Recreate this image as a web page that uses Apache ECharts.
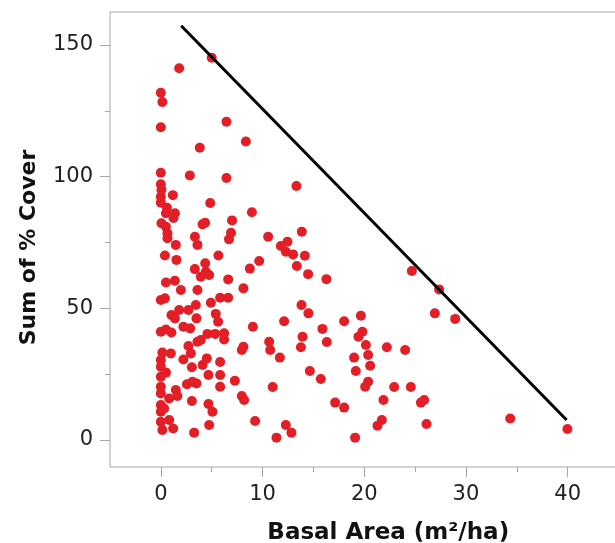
<!DOCTYPE html>
<html>
<head>
<meta charset="utf-8">
<script src="https://cdn.jsdelivr.net/npm/echarts@6/dist/echarts.min.js"></script>
<style>
html,body{margin:0;padding:0;background:#fff;}
#chart{width:615px;height:543px;}
</style>
</head>
<body>
<div id="chart"></div>
<script>
// Basal area (m²/ha) of each plot
const basalArea = [
  5.0,1.8,0,0.15,6.45,0,8.36,3.83,0,2.85,6.45,0,0.06,1.18,0,0,4.85,0.6,1.38,1.24,
  8.95,0.5,0.06,0.5,4.35,4.1,7.0,6.9,10.55,0.65,0.65,3.35,6.7,1.47,3.6,0.4,1.53,5.66,4.36,3.34,
  3.93,4.75,4.42,6.62,9.67,8.75,0.5,1.38,1.97,3.6,8.12,0,0.4,4.92,5.83,6.62,1.04,1.38,1.8,2.71,
  3.44,3.5,5.4,5.63,0,0.5,1.04,2.22,2.88,4.58,5.34,3.6,3.93,6.22,6.22,9.05,2.71,2.95,10.65,10.75,
  8.12,7.96,0.15,0.98,0,0,0.5,0,2.22,3.05,4.1,4.52,5.83,4.68,5.83,2.56,3.11,3.5,5.83,7.28,
  0,0,1.47,1.63,0.82,3.05,4.68,5.07,7.96,8.19,0,0,0.32,0,0.82,0.15,1.21,4.75,3.27,9.27,
  13.33,13.86,11.8,12.45,12.29,13.0,14.16,13.37,14.48,16.28,24.68,13.83,14.51,12.12,15.89,18.02,19.67,19.82,19.43,13.93,
  13.77,16.32,11.7,20.16,22.22,24.02,19.0,20.38,20.58,19.17,14.65,15.73,11.0,20.09,20.38,22.94,24.58,17.14,18.02,21.89,
  25.57,25.89,21.73,21.3,26.12,12.29,12.84,11.37,19.1,27.36,26.94,28.94,34.35,39.98
];
// Sum of % cover of each plot
const sumCover = [
  145.2,141.2,131.9,128.4,120.9,118.8,113.4,111.0,101.5,100.5,99.5,97.1,95.0,93.0,92.4,90.1,90.0,88.2,86.1,84.3,
  86.5,86.1,82.3,81.0,82.5,81.9,83.4,78.7,77.2,78.5,76.6,77.2,76.2,74.1,74.1,70.1,68.4,70.1,67.1,64.9,
  62.0,62.7,63.9,61.0,68.0,65.1,59.8,60.5,57.0,57.0,57.6,53.2,53.8,52.1,54.0,54.0,47.5,46.2,49.4,49.4,
  51.3,46.2,47.9,44.9,41.1,42.0,40.8,43.0,42.4,40.3,40.3,37.3,38.0,40.5,38.2,43.0,35.7,32.9,37.3,34.2,
  35.4,34.2,33.2,32.9,30.4,27.8,25.6,24.0,30.6,27.6,28.5,31.0,29.6,24.7,24.7,21.2,22.1,21.5,20.2,22.5,
  20.2,17.7,19.0,16.7,15.8,14.8,13.7,10.7,16.7,15.2,13.3,10.7,12.0,6.9,7.6,3.8,4.4,5.7,2.8,7.2,
  96.5,79.1,73.7,75.3,71.5,70.5,70.0,66.1,63.0,61.1,64.2,51.3,48.1,45.1,42.2,45.1,47.2,41.1,39.2,39.2,
  35.2,37.2,31.3,36.1,35.2,34.2,31.3,32.3,28.2,26.2,26.2,23.2,20.1,20.2,22.1,20.1,20.1,14.2,12.3,15.2,
  14.2,15.2,7.6,5.4,6.1,5.7,2.8,0.9,0.9,57.2,48.1,46.0,8.2,4.2
];
// Boundary line end points
const boundaryX = [2.0, 39.9];
const boundaryY = [157.3, 7.6];
// Tick labels
const xTickLabels = [0, 10, 20, 30, 40];
const yTickLabels = [0, 50, 100, 150];

const points = basalArea.map((x, i) => [x, sumCover[i]]);
const boundary = boundaryX.map((x, i) => [x, boundaryY[i]]);

const FRAME = '#a6a6a6';
const LABEL_FONT = 'DejaVu Sans';
const chart = echarts.init(document.getElementById('chart'), null, {renderer: 'canvas'});
chart.setOption({
  animation: false,
  grid: [
    {left: 110, top: 12, width: 508, height: 455, show: true, borderColor: FRAME, borderWidth: 1, backgroundColor: '#fff', outerBoundsMode: 'none', containLabel: false},
    {left: 160.85, top: 45, width: 406.8, height: 395, show: false, outerBoundsMode: 'none', containLabel: false}
  ],
  xAxis: [
    {gridIndex: 0, type: 'value', min: -5, max: 44.95,
     axisLine: {show: false}, axisTick: {show: false}, axisLabel: {show: false}, splitLine: {show: false}},
    {gridIndex: 1, type: 'value', min: 0, max: 40, interval: 10, offset: 27,
     axisLine: {show: false, onZero: false},
     axisTick: {show: true, length: 10, lineStyle: {color: FRAME, width: 1}},
     minorTick: {show: true, splitNumber: 2, length: 5, lineStyle: {color: FRAME, width: 1}},
     splitLine: {show: false}, minorSplitLine: {show: false},
     axisLabel: {margin: 17, color: '#222', fontFamily: LABEL_FONT, fontSize: 21,
       formatter: v => xTickLabels.includes(v) ? String(v) : ''},
     name: 'Basal Area (m²/ha)', nameLocation: 'middle', nameGap: 55,
     nameTextStyle: {fontFamily: LABEL_FONT, fontWeight: 'bold', fontSize: 23, color: '#111', padding: [0, 0, 0, 48]}
    }
  ],
  yAxis: [
    {gridIndex: 0, type: 'value', min: -10.25, max: 162.55,
     axisLine: {show: false}, axisTick: {show: false}, axisLabel: {show: false}, splitLine: {show: false}},
    {gridIndex: 1, type: 'value', min: 0, max: 150, interval: 50, offset: 50.85,
     axisLine: {show: false, onZero: false},
     axisTick: {show: true, length: 10, lineStyle: {color: FRAME, width: 1}},
     minorTick: {show: true, splitNumber: 2, length: 5, lineStyle: {color: FRAME, width: 1}},
     splitLine: {show: false}, minorSplitLine: {show: false},
     axisLabel: {margin: 17, color: '#222', fontFamily: LABEL_FONT, fontSize: 21,
       formatter: v => yTickLabels.includes(v) ? String(v) : ''},
     name: 'Sum of % Cover', nameLocation: 'middle', nameGap: 70, nameRotate: 90,
     nameTextStyle: {fontFamily: LABEL_FONT, fontWeight: 'bold', fontSize: 22, color: '#111', padding: [0, 10, 0, 0]}
    }
  ],
  series: [
    {type: 'scatter', xAxisIndex: 0, yAxisIndex: 0, data: points, symbol: 'circle', symbolSize: 10,
     itemStyle: {color: '#e31e26', opacity: 1}, z: 2},
    {type: 'line', xAxisIndex: 0, yAxisIndex: 0, data: boundary, symbol: 'none',
     lineStyle: {color: '#000', width: 3}, z: 3}
  ]
});
</script>
</body>
</html>
